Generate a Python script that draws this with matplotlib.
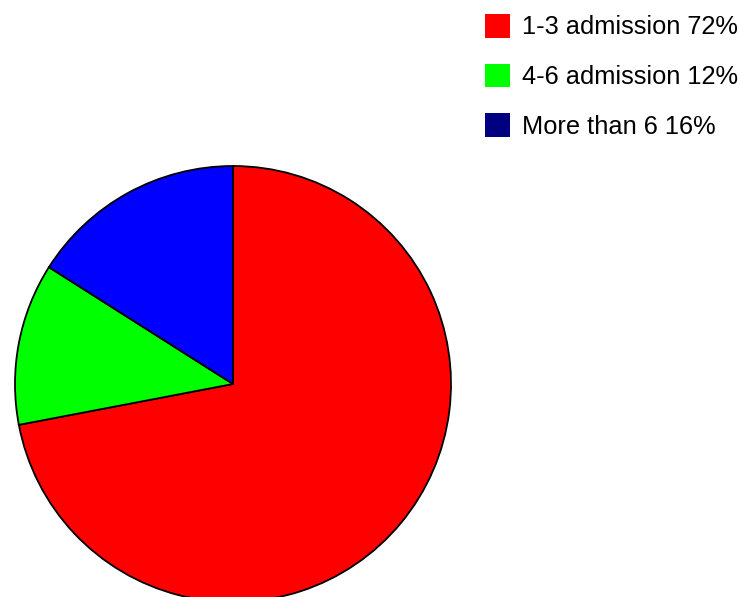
import matplotlib.pyplot as plt
from matplotlib.patches import Patch

plt.rcParams['font.family'] = ['Liberation Sans', 'DejaVu Sans']

# ========== Data ==========
labels = ['1-3 admission 72%', '4-6 admission 12%', 'More than 6 16%']
shares = [72, 12, 16]
slice_colors = ['#FF0000', '#00FF00', '#0000FF']
legend_colors = ['#FF0000', '#00FF00', '#000080']

# ========== Figure ==========
W, H = 740, 597
fig = plt.figure(figsize=(W / 100, H / 100), dpi=100)
ax = fig.add_axes([0, 0, 1, 1])
ax.set_xlim(0, W)
ax.set_ylim(0, H)
ax.set_aspect('equal')
ax.axis('off')

ax.pie(shares, colors=slice_colors, startangle=90, counterclock=False,
       center=(233, H - 384), radius=218,
       wedgeprops=dict(edgecolor='black', linewidth=1.3))
ax.set_xlim(0, W)
ax.set_ylim(0, H)

handles = [Patch(facecolor=c, edgecolor='none') for c in legend_colors]
ax.legend(handles, labels, loc='upper left', bbox_to_anchor=(485 / W, (H - 14) / H),
          frameon=False, fontsize=18.3, handlelength=1.0, handleheight=1.05,
          handletextpad=0.45, labelspacing=0.95, borderpad=0, borderaxespad=0)

plt.savefig('out.png', dpi=100)
